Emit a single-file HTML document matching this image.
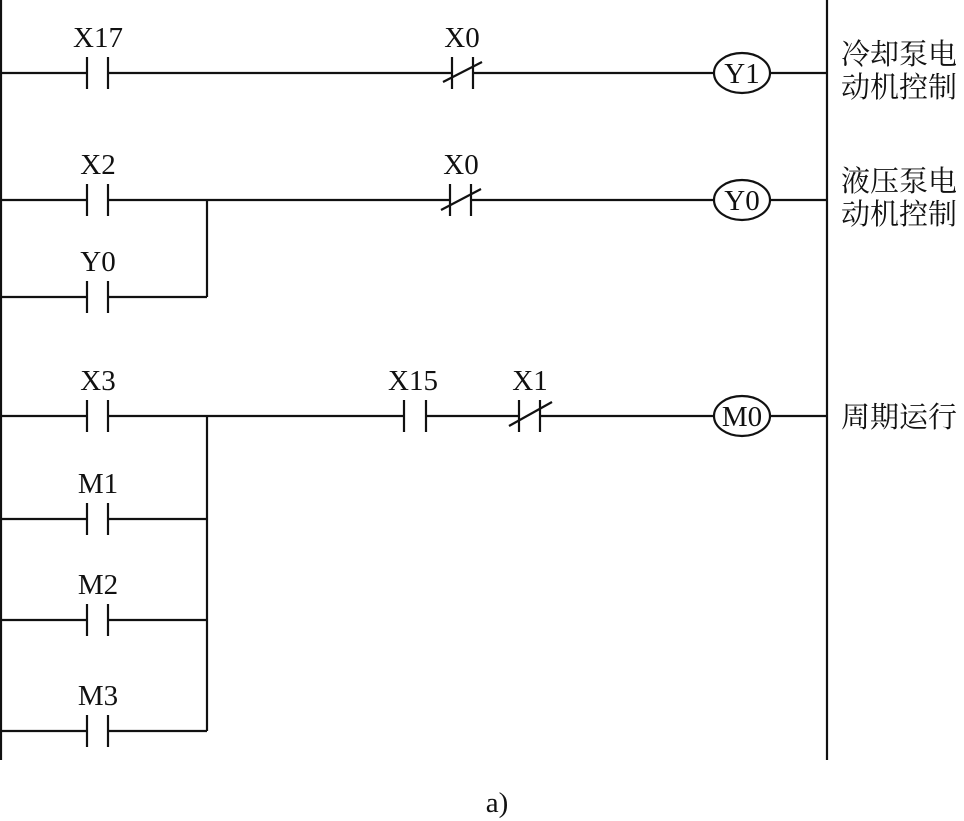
<!DOCTYPE html>
<html><head><meta charset="utf-8"><style>
html,body{margin:0;padding:0;background:#fff;}
svg{display:block;}
text{font-family:"Liberation Serif","Noto Serif CJK SC",serif;fill:#111;}
.c{font-family:"Liberation Serif","Noto Serif CJK SC","Noto Sans CJK SC",serif;}
</style></head><body>
<svg width="964" height="821" viewBox="0 0 964 821" xmlns="http://www.w3.org/2000/svg" stroke="#111" stroke-width="2.2" fill="none">
<!-- rails -->
<line x1="1" y1="0" x2="1" y2="760"/>
<line x1="827" y1="0" x2="827" y2="760"/>
<!-- rung 1 -->
<line x1="1" y1="73" x2="87" y2="73"/><line x1="87" y1="57" x2="87" y2="89"/><line x1="108" y1="57" x2="108" y2="89"/>
<line x1="108" y1="73" x2="452" y2="73"/><line x1="452" y1="57" x2="452" y2="89"/><line x1="473" y1="57" x2="473" y2="89"/><line x1="443" y1="82" x2="482" y2="62"/>
<line x1="473" y1="73" x2="714" y2="73"/><ellipse cx="742" cy="73" rx="28" ry="20"/><line x1="770" y1="73" x2="827" y2="73"/>
<!-- rung 2 -->
<line x1="1" y1="200" x2="87" y2="200"/><line x1="87" y1="184" x2="87" y2="216"/><line x1="108" y1="184" x2="108" y2="216"/>
<line x1="108" y1="200" x2="450" y2="200"/><line x1="450" y1="184" x2="450" y2="216"/><line x1="471" y1="184" x2="471" y2="216"/><line x1="441" y1="210" x2="481" y2="189"/>
<line x1="471" y1="200" x2="714" y2="200"/><ellipse cx="742" cy="200" rx="28" ry="20"/><line x1="770" y1="200" x2="827" y2="200"/>
<line x1="1" y1="297" x2="87" y2="297"/><line x1="87" y1="281" x2="87" y2="313"/><line x1="108" y1="281" x2="108" y2="313"/>
<line x1="108" y1="297" x2="207" y2="297"/><line x1="207" y1="200" x2="207" y2="297"/>
<!-- rung 3 -->
<line x1="1" y1="416" x2="87" y2="416"/><line x1="87" y1="400" x2="87" y2="432"/><line x1="108" y1="400" x2="108" y2="432"/>
<line x1="108" y1="416" x2="404" y2="416"/><line x1="404" y1="400" x2="404" y2="432"/><line x1="426" y1="400" x2="426" y2="432"/>
<line x1="426" y1="416" x2="519" y2="416"/><line x1="519" y1="400" x2="519" y2="432"/><line x1="540" y1="400" x2="540" y2="432"/><line x1="509" y1="426" x2="552" y2="402"/>
<line x1="540" y1="416" x2="714" y2="416"/><ellipse cx="742" cy="416" rx="28" ry="20"/><line x1="770" y1="416" x2="827" y2="416"/>
<line x1="207" y1="416" x2="207" y2="731"/>
<line x1="1" y1="519" x2="87" y2="519"/><line x1="87" y1="503" x2="87" y2="535"/><line x1="108" y1="503" x2="108" y2="535"/><line x1="108" y1="519" x2="207" y2="519"/>
<line x1="1" y1="620" x2="87" y2="620"/><line x1="87" y1="604" x2="87" y2="636"/><line x1="108" y1="604" x2="108" y2="636"/><line x1="108" y1="620" x2="207" y2="620"/>
<line x1="1" y1="731" x2="87" y2="731"/><line x1="87" y1="715" x2="87" y2="747"/><line x1="108" y1="715" x2="108" y2="747"/><line x1="108" y1="731" x2="207" y2="731"/>
<g stroke="none" font-size="29" text-anchor="middle">
<text x="98" y="47">X17</text>
<text x="462" y="47">X0</text>
<text x="742" y="83">Y1</text>
<text x="98" y="174">X2</text>
<text x="461" y="174">X0</text>
<text x="742" y="210">Y0</text>
<text x="98" y="271">Y0</text>
<text x="98" y="390">X3</text>
<text x="413" y="390">X15</text>
<text x="530" y="390">X1</text>
<text x="742" y="426">M0</text>
<text x="98" y="493">M1</text>
<text x="98" y="594">M2</text>
<text x="98" y="705">M3</text>
<text x="497" y="812">a)</text>
</g>
<g stroke="none" font-size="29" class="c">
<text x="841" y="64">冷却泵电</text>
<text x="841" y="97">动机控制</text>
<text x="841" y="191">液压泵电</text>
<text x="841" y="224">动机控制</text>
<text x="841" y="427">周期运行</text>
</g>
</svg>
</body></html>
